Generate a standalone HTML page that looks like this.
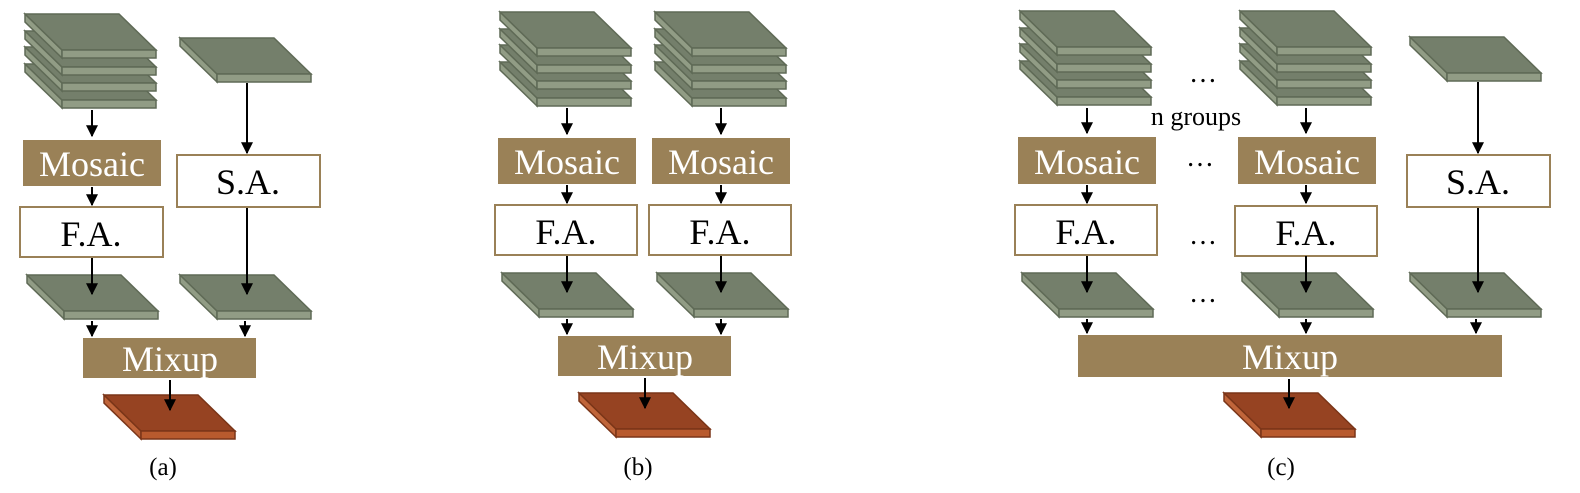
<!DOCTYPE html>
<html><head><meta charset="utf-8"><style>
html,body{margin:0;padding:0;background:#fff}
svg{display:block}
text{font-family:"Liberation Serif",serif}
</style></head><body>
<svg width="1580" height="493" viewBox="0 0 1580 493" xmlns="http://www.w3.org/2000/svg">
<defs>
<g id="s">
<polygon points="0,0 37,36 37,44 0,8" fill="#919c85" stroke="#5f6a56" stroke-width="1.5"/>
<polygon points="0,0 94,0 131,36 37,36" fill="#747f6b" stroke="#5f6a56" stroke-width="1.5"/>
<rect x="37" y="36" width="94" height="8" fill="#919c85" stroke="#5f6a56" stroke-width="1.5"/>
</g>
<g id="o">
<polygon points="0,0 37,36 37,44 0,8" fill="#c0653a" stroke="#7a3518" stroke-width="1.5"/>
<polygon points="0,0 94,0 131,36 37,36" fill="#964322" stroke="#7a3518" stroke-width="1.5"/>
<rect x="37" y="36" width="94" height="8" fill="#b85a2e" stroke="#7a3518" stroke-width="1.5"/>
</g>
<g id="st">
<use href="#s" y="50"/><use href="#s" y="33"/><use href="#s" y="17"/><use href="#s" y="0"/>
</g>
<marker id="a" viewBox="0 0 10 10" refX="9" refY="5" markerWidth="6" markerHeight="6" orient="auto"><path d="M0,0L10,5L0,10z" fill="#000"/></marker>
</defs>

<!-- (a) -->
<use href="#st" x="25" y="14"/>
<use href="#s" x="180" y="38"/>
<use href="#s" x="27" y="275"/>
<use href="#s" x="180" y="275"/>
<use href="#o" x="104" y="395"/>
<rect x="23" y="140" width="138" height="46" fill="#9a8157"/>
<text x="92" y="176" font-size="36" fill="#fff" text-anchor="middle">Mosaic</text>
<rect x="20" y="207" width="143" height="50" fill="#fff" stroke="#9a8157" stroke-width="2"/>
<text x="91" y="246" font-size="36" fill="#000" text-anchor="middle">F.A.</text>
<rect x="177" y="155" width="143" height="52" fill="#fff" stroke="#9a8157" stroke-width="2"/>
<text x="248" y="194" font-size="36" fill="#000" text-anchor="middle">S.A.</text>
<rect x="83" y="338" width="173" height="40" fill="#9a8157"/>
<text x="170" y="371" font-size="36" fill="#fff" text-anchor="middle">Mixup</text>
<g stroke="#000" stroke-width="2" marker-end="url(#a)">
<line x1="92" y1="110" x2="92" y2="136"/>
<line x1="92" y1="187" x2="92" y2="205"/>
<line x1="92" y1="258" x2="92" y2="294"/>
<line x1="247" y1="83" x2="247" y2="153"/>
<line x1="247" y1="208" x2="247" y2="294"/>
<line x1="92" y1="321" x2="92" y2="336"/>
<line x1="245" y1="321" x2="245" y2="336"/>
<line x1="170" y1="380" x2="170" y2="410"/>
</g>
<text x="163" y="475" font-size="25" text-anchor="middle">(a)</text>

<!-- (b) -->
<use href="#st" x="500" y="12"/>
<use href="#st" x="655" y="12"/>
<use href="#s" x="502" y="273"/>
<use href="#s" x="657" y="273"/>
<use href="#o" x="579" y="393"/>
<rect x="498" y="138" width="138" height="46" fill="#9a8157"/>
<text x="567" y="174" font-size="36" fill="#fff" text-anchor="middle">Mosaic</text>
<rect x="652" y="138" width="138" height="46" fill="#9a8157"/>
<text x="721" y="174" font-size="36" fill="#fff" text-anchor="middle">Mosaic</text>
<rect x="495" y="205" width="142" height="50" fill="#fff" stroke="#9a8157" stroke-width="2"/>
<text x="566" y="244" font-size="36" text-anchor="middle">F.A.</text>
<rect x="649" y="205" width="142" height="50" fill="#fff" stroke="#9a8157" stroke-width="2"/>
<text x="720" y="244" font-size="36" text-anchor="middle">F.A.</text>
<rect x="558" y="336" width="173" height="40" fill="#9a8157"/>
<text x="645" y="369" font-size="36" fill="#fff" text-anchor="middle">Mixup</text>
<g stroke="#000" stroke-width="2" marker-end="url(#a)">
<line x1="567" y1="108" x2="567" y2="134"/>
<line x1="721" y1="108" x2="721" y2="134"/>
<line x1="567" y1="185" x2="567" y2="203"/>
<line x1="721" y1="185" x2="721" y2="203"/>
<line x1="567" y1="256" x2="567" y2="292"/>
<line x1="721" y1="256" x2="721" y2="292"/>
<line x1="567" y1="319" x2="567" y2="334"/>
<line x1="721" y1="319" x2="721" y2="334"/>
<line x1="645" y1="378" x2="645" y2="408"/>
</g>
<text x="638" y="475" font-size="25" text-anchor="middle">(b)</text>

<!-- (c) -->
<use href="#st" x="1020" y="11"/>
<use href="#st" x="1240" y="11"/>
<use href="#s" x="1410" y="37"/>
<use href="#s" x="1022" y="273"/>
<use href="#s" x="1242" y="273"/>
<use href="#s" x="1410" y="273"/>
<use href="#o" x="1224" y="393"/>
<rect x="1018" y="137" width="138" height="47" fill="#9a8157"/>
<text x="1087" y="174" font-size="36" fill="#fff" text-anchor="middle">Mosaic</text>
<rect x="1238" y="137" width="138" height="47" fill="#9a8157"/>
<text x="1307" y="174" font-size="36" fill="#fff" text-anchor="middle">Mosaic</text>
<rect x="1015" y="205" width="142" height="50" fill="#fff" stroke="#9a8157" stroke-width="2"/>
<text x="1086" y="244" font-size="36" text-anchor="middle">F.A.</text>
<rect x="1235" y="206" width="142" height="50" fill="#fff" stroke="#9a8157" stroke-width="2"/>
<text x="1306" y="245" font-size="36" text-anchor="middle">F.A.</text>
<rect x="1407" y="155" width="143" height="52" fill="#fff" stroke="#9a8157" stroke-width="2"/>
<text x="1478" y="194" font-size="36" text-anchor="middle">S.A.</text>
<rect x="1078" y="335" width="424" height="42" fill="#9a8157"/>
<text x="1290" y="369" font-size="36" fill="#fff" text-anchor="middle">Mixup</text>
<g font-size="28" text-anchor="middle">
<text x="1203" y="82">…</text>
<text x="1200" y="166">…</text>
<text x="1203" y="244">…</text>
<text x="1203" y="302">…</text>
</g>
<text x="1196" y="125" font-size="26" text-anchor="middle">n groups</text>
<g stroke="#000" stroke-width="2" marker-end="url(#a)">
<line x1="1087" y1="108" x2="1087" y2="133"/>
<line x1="1306" y1="108" x2="1306" y2="133"/>
<line x1="1087" y1="185" x2="1087" y2="203"/>
<line x1="1306" y1="185" x2="1306" y2="203"/>
<line x1="1087" y1="256" x2="1087" y2="292"/>
<line x1="1306" y1="256" x2="1306" y2="292"/>
<line x1="1478" y1="82" x2="1478" y2="153"/>
<line x1="1478" y1="208" x2="1478" y2="292"/>
<line x1="1087" y1="319" x2="1087" y2="333"/>
<line x1="1306" y1="319" x2="1306" y2="333"/>
<line x1="1476" y1="319" x2="1476" y2="333"/>
<line x1="1289" y1="379" x2="1289" y2="408"/>
</g>
<text x="1281" y="475" font-size="25" text-anchor="middle">(c)</text>
</svg>
</body></html>
